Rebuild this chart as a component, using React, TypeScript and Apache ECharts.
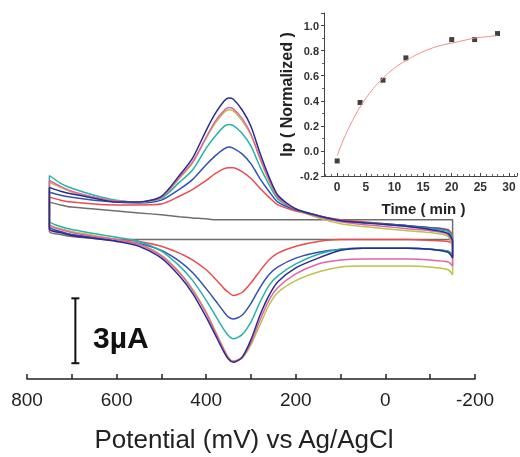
import { useEffect, useRef } from "react";
import * as echarts from "echarts";

// Potential grid (mV) used for both scan branches
const POTENTIALS = [750, 725, 700, 650, 600, 550, 500, 460, 430, 400, 380, 360, 350, 340, 320, 300, 280, 260, 240, 200, 150, 100, 50, 0, -50, -100, -140, -150];

// Current (µA) – upper (anodic) and lower (cathodic) branches
const GRAY_UP = [1.18, 1.05, 0.95, 0.86, 0.77, 0.68, 0.59, 0.5, 0.45, 0.41, 0.36, 0.36, 0.36, 0.36, 0.36, 0.36, 0.36, 0.36, 0.36, 0.36, 0.36, 0.36, 0.36, 0.36, 0.36, 0.36, 0.36, 0.36];
const GRAY_LO = [-0.18, -0.32, -0.41, -0.5, -0.55, -0.55, -0.55, -0.55, -0.55, -0.55, -0.55, -0.55, -0.55, -0.55, -0.55, -0.55, -0.55, -0.55, -0.55, -0.55, -0.55, -0.55, -0.55, -0.55, -0.55, -0.55, -0.55, -0.55];

const RED_UP = [1.41, 1.27, 1.18, 1.09, 1.05, 1.05, 1.09, 1.45, 1.77, 2.18, 2.5, 2.73, 2.77, 2.77, 2.59, 2.27, 1.82, 1.41, 1.05, 0.77, 0.55, 0.36, 0.27, 0.18, 0.09, 0, -0.09, -0.41];
const RED_LO = [-0.09, -0.23, -0.36, -0.45, -0.55, -0.64, -0.86, -1.18, -1.5, -1.95, -2.36, -2.82, -3.0, -3.14, -3.0, -2.55, -2.0, -1.5, -1.18, -0.86, -0.64, -0.55, -0.55, -0.55, -0.55, -0.59, -0.64, -0.73];

const BLUE_UP = [1.64, 1.5, 1.41, 1.27, 1.18, 1.14, 1.27, 1.77, 2.23, 2.91, 3.32, 3.64, 3.73, 3.68, 3.41, 2.95, 2.27, 1.68, 1.18, 0.82, 0.55, 0.32, 0.23, 0.18, 0.09, 0, -0.14, -0.64];
const BLUE_LO = [0.05, -0.18, -0.32, -0.45, -0.59, -0.73, -1.05, -1.55, -2.09, -2.82, -3.36, -3.91, -4.14, -4.23, -4.05, -3.5, -2.77, -2.18, -1.82, -1.41, -1.14, -1.0, -0.95, -0.95, -0.95, -1.0, -1.09, -1.23];

const TEAL_UP = [2.41, 2.05, 1.82, 1.5, 1.27, 1.18, 1.36, 2.09, 2.68, 3.68, 4.23, 4.68, 4.77, 4.73, 4.36, 3.77, 2.82, 2.0, 1.32, 0.86, 0.55, 0.32, 0.23, 0.14, 0.05, -0.05, -0.18, -0.5];
const TEAL_LO = [0.32, 0.05, -0.09, -0.27, -0.45, -0.64, -1.09, -1.77, -2.45, -3.36, -4.05, -4.73, -5.0, -5.14, -4.95, -4.36, -3.45, -2.68, -2.23, -1.68, -1.23, -1.0, -0.95, -0.95, -0.95, -1.0, -1.09, -1.32];

const OLIVE_UP = [2.09, 1.86, 1.64, 1.41, 1.23, 1.18, 1.41, 2.27, 3.0, 4.14, 4.82, 5.32, 5.45, 5.41, 4.95, 4.27, 3.18, 2.18, 1.41, 0.86, 0.45, 0.18, 0.05, -0.05, -0.14, -0.23, -0.41, -1.09];
const OLIVE_LO = [0.18, -0.05, -0.18, -0.36, -0.55, -0.77, -1.27, -2.05, -2.86, -3.91, -4.77, -5.64, -6.0, -6.18, -6.05, -5.41, -4.5, -3.59, -3.0, -2.45, -2.05, -1.82, -1.77, -1.77, -1.77, -1.82, -1.95, -2.18];

const PINK_UP = [2.18, 1.91, 1.68, 1.41, 1.23, 1.18, 1.41, 2.32, 3.05, 4.18, 4.91, 5.41, 5.55, 5.5, 5.05, 4.32, 3.23, 2.23, 1.41, 0.86, 0.5, 0.27, 0.14, 0.05, -0.05, -0.14, -0.32, -0.86];
const PINK_LO = [0.14, -0.09, -0.23, -0.41, -0.55, -0.77, -1.32, -2.09, -2.91, -3.95, -4.82, -5.68, -6.05, -6.18, -6.0, -5.32, -4.27, -3.36, -2.77, -2.14, -1.68, -1.5, -1.45, -1.45, -1.45, -1.5, -1.59, -1.77];

const NAVY_UP = [1.86, 1.68, 1.55, 1.36, 1.18, 1.18, 1.45, 2.41, 3.23, 4.5, 5.27, 5.86, 6.0, 5.95, 5.45, 4.68, 3.45, 2.36, 1.5, 0.86, 0.55, 0.32, 0.23, 0.14, 0.05, -0.09, -0.27, -0.64];
const NAVY_LO = [-0.05, -0.23, -0.36, -0.5, -0.64, -0.86, -1.41, -2.23, -3.05, -4.14, -4.95, -5.77, -6.09, -6.23, -6.0, -5.18, -4.05, -3.14, -2.5, -1.86, -1.41, -1.05, -0.95, -0.95, -0.95, -1.0, -1.14, -1.41];

// Scale bar (3 µA) position
const SCALE_BAR = [[692, -3.27], [692, -6.27]];

// Inset: normalized peak current vs time
const INSET_TIME = [0, 4, 8, 12, 20, 24, 28];
const INSET_IP = [-0.08, 0.386, 0.564, 0.742, 0.888, 0.888, 0.936];
const FIT_TIME = [0, 1, 2, 3, 4, 6, 8, 10, 12, 14, 16, 18, 20, 22, 24, 26, 28];
const FIT_IP = [-0.04, 0.08, 0.18, 0.27, 0.35, 0.48, 0.58, 0.66, 0.72, 0.77, 0.81, 0.84, 0.86, 0.88, 0.9, 0.91, 0.92];

const FONT = '"Liberation Sans", Arial, sans-serif';

function loop(up: number[], lo: number[]) {
  const pts: number[][] = POTENTIALS.map((p, i) => [p, up[i]]);
  for (let i = POTENTIALS.length - 1; i >= 0; i--) pts.push([POTENTIALS[i], lo[i]]);
  pts.push([POTENTIALS[0], up[0]]);
  return pts;
}

const CURVES = [
  { up: GRAY_UP, lo: GRAY_LO, color: "#6e6e6e" },
  { up: RED_UP, lo: RED_LO, color: "#ec4c4c" },
  { up: BLUE_UP, lo: BLUE_LO, color: "#3450b0" },
  { up: TEAL_UP, lo: TEAL_LO, color: "#26b3a6" },
  { up: OLIVE_UP, lo: OLIVE_LO, color: "#bcc24a" },
  { up: PINK_UP, lo: PINK_LO, color: "#e064a8" },
  { up: NAVY_UP, lo: NAVY_LO, color: "#2c2c8c" },
];

export default function App() {
  const ref = useRef<HTMLDivElement>(null);
  useEffect(() => {
    const chart = echarts.init(ref.current!, null, { renderer: "svg" });
    const cvSeries = CURVES.map((c) => ({
      type: "line",
      xAxisIndex: 0,
      yAxisIndex: 0,
      data: loop(c.up, c.lo),
      showSymbol: false,
      smooth: 0.25,
      lineStyle: { color: c.color, width: 1.5 },
      itemStyle: { color: c.color },
      silent: true,
    }));
    chart.setOption({
      animation: false,
      textStyle: { fontFamily: FONT },
      grid: [
        { left: 27, right: 45, top: 33, bottom: 72 },
        { left: 324, top: 13, width: 196, height: 163 },
      ],
      xAxis: [
        {
          type: "value",
          gridIndex: 0,
          inverse: true,
          min: -200,
          max: 800,
          interval: 100,
          axisLine: { onZero: false, lineStyle: { color: "#222", width: 1.5 } },
          axisTick: { inside: true, length: 5, lineStyle: { color: "#222", width: 1.5 } },
          axisLabel: {
            margin: 11,
            fontSize: 19,
            color: "#222",
            fontFamily: FONT,
            formatter: (v: number) => (v % 200 === 0 ? String(v) : ""),
          },
          splitLine: { show: false },
          name: "Potential (mV) vs Ag/AgCl",
          nameLocation: "middle",
          nameGap: 47,
          nameTextStyle: { fontSize: 26, color: "#222", fontFamily: FONT, padding: [0, 14, 0, 0] },
        },
        {
          type: "value",
          gridIndex: 1,
          min: -2.3,
          max: 31.4,
          axisLine: { onZero: false, lineStyle: { color: "#444", width: 1 } },
          axisTick: { inside: true, length: 3, lineStyle: { color: "#444" } },
          minorTick: { show: true, splitNumber: 5, length: 2, lineStyle: { color: "#666" } },
          axisLabel: {
            margin: 5,
            fontSize: 12,
            fontWeight: "bold",
            color: "#333",
            fontFamily: FONT,
            formatter: (v: number) => (Math.abs(v - Math.round(v / 5) * 5) < 1e-6 ? String(Math.round(v)) : ""),
          },
          splitLine: { show: false },
          name: "Time ( min )",
          nameLocation: "middle",
          nameGap: 25,
          nameTextStyle: { fontSize: 15, fontWeight: "bold", color: "#222", fontFamily: FONT, padding: [0, 0, 0, 6] },
        },
      ],
      yAxis: [
        { type: "value", gridIndex: 0, min: -7, max: 9, show: false },
        {
          type: "value",
          gridIndex: 1,
          min: -0.2,
          max: 1.1,
          interval: 0.2,
          axisLine: { show: true, onZero: false, lineStyle: { color: "#444", width: 1 } },
          axisTick: { show: true, length: 3, lineStyle: { color: "#444" } },
          minorTick: { show: true, splitNumber: 2, length: 2, lineStyle: { color: "#666" } },
          axisLabel: {
            margin: 5,
            fontSize: 11,
            fontWeight: "bold",
            color: "#333",
            fontFamily: FONT,
            formatter: (v: number) => (v > 1.05 ? "" : v.toFixed(1)),
          },
          splitLine: { show: false },
          name: "Ip ( Normalized )",
          nameLocation: "middle",
          nameRotate: 90,
          nameGap: 30,
          nameTextStyle: { fontSize: 16, fontWeight: "bold", color: "#222", fontFamily: FONT },
        },
      ],
      series: [
        ...cvSeries,
        {
          type: "line",
          xAxisIndex: 0,
          yAxisIndex: 0,
          data: SCALE_BAR,
          symbol: "rect",
          symbolSize: [8, 2],
          showSymbol: true,
          lineStyle: { color: "#111", width: 2 },
          itemStyle: { color: "#111" },
          silent: true,
        },
        {
          type: "line",
          xAxisIndex: 1,
          yAxisIndex: 1,
          data: FIT_TIME.map((t, i) => [t, FIT_IP[i]]),
          smooth: true,
          showSymbol: false,
          lineStyle: { color: "#f08a8a", width: 1 },
          silent: true,
        },
        {
          type: "scatter",
          xAxisIndex: 1,
          yAxisIndex: 1,
          data: INSET_TIME.map((t, i) => [t, INSET_IP[i]]),
          symbol: "rect",
          symbolSize: 5,
          itemStyle: { color: "#111" },
          silent: true,
        },
      ],
      graphic: [
        {
          type: "text",
          left: 93,
          top: 322,
          style: { text: "3µA", fontSize: 30, fontWeight: "bold", fontFamily: FONT, fill: "#111" },
        },
      ],
    });
    return () => chart.dispose();
  }, []);
  return <div ref={ref} style={{ position: "fixed", left: 0, top: 0, width: 520, height: 457 }} />;
}
